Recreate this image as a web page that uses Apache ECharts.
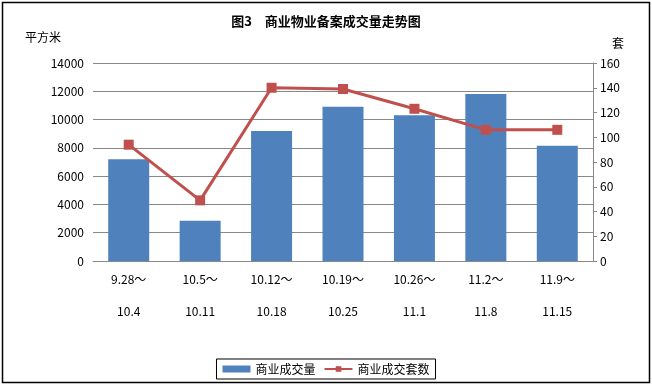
<!DOCTYPE html>
<html><head><meta charset="utf-8">
<script src="https://cdn.jsdelivr.net/npm/echarts@6/dist/echarts.min.js"></script>
<style>html,body{margin:0;padding:0;background:#fff}#c{width:652px;height:386px}</style>
</head><body><div id="c"></div>
<script>
const categories = ['9.28～\n10.4','10.5～\n10.11','10.12～\n10.18','10.19～\n10.25','10.26～\n11.1','11.2～\n11.8','11.9～\n11.15'];
const areaValues = [7200, 2850, 9200, 10900, 10300, 11800, 8150];
const unitValues = [94, 49, 140, 139, 123, 106, 106];
const leftTicks = {min: 0, max: 14000, interval: 2000};
const rightTicks = {min: 0, max: 160, interval: 20};

const font = 'SimSun, "Noto Sans CJK SC", sans-serif';
const chart = echarts.init(document.getElementById('c'));
chart.setOption({
  animation: false,
  backgroundColor: '#fff',
  textStyle: {fontFamily: font},
  title: {
    text: '图3　商业物业备案成交量走势图',
    left: 'center', top: 10,
    textStyle: {fontSize: 13, fontWeight: 'bold', color: '#000', fontFamily: font}
  },
  graphic: [
    {type: 'rect', shape: {x: 2.5, y: 2.5, width: 647, height: 380}, style: {fill: 'none', stroke: '#000', lineWidth: 1.5}, silent: true},
    {type: 'text', left: 25, top: 31, style: {text: '平方米', fontSize: 12, fill: '#000', fontFamily: font}},
    {type: 'text', left: 612, top: 37, style: {text: '套', fontSize: 12, fill: '#000', fontFamily: font}}
  ],
  legend: {
    bottom: 7, left: 'center',
    borderColor: '#000', borderWidth: 1, borderRadius: 0,
    padding: [4, 6, 4, 6],
    itemGap: 8, itemWidth: 28, itemHeight: 7,
    textStyle: {fontSize: 12, color: '#000', fontFamily: font},
    data: [{name: '商业成交量', icon: 'rect'}, {name: '商业成交套数'}]
  },
  grid: {left: 93, right: 59, top: 63, bottom: 125},
  xAxis: {
    type: 'category', data: categories,
    axisLine: {lineStyle: {color: '#888', width: 1}},
    axisTick: {show: false},
    axisLabel: {color: '#000', fontSize: 12, lineHeight: 32, margin: 2, interval: 0, fontFamily: font}
  },
  yAxis: [
    {
      type: 'value', min: leftTicks.min, max: leftTicks.max, interval: leftTicks.interval,
      axisLine: {show: false}, axisTick: {show: false},
      axisLabel: {color: '#000', fontSize: 12, margin: 9, fontFamily: font, formatter: v => String(v)},
      splitLine: {lineStyle: {color: '#888', width: 1}}
    },
    {
      type: 'value', min: rightTicks.min, max: rightTicks.max, interval: rightTicks.interval,
      position: 'right',
      axisLine: {show: true, lineStyle: {color: '#888', width: 1}},
      axisTick: {show: true, length: 4, lineStyle: {color: '#888'}},
      axisLabel: {color: '#000', fontSize: 12, margin: 7, fontFamily: font, formatter: v => String(v)},
      splitLine: {show: false}
    }
  ],
  series: [
    {
      name: '商业成交量', type: 'bar', data: areaValues, yAxisIndex: 0,
      barWidth: 41, itemStyle: {color: '#4F81BD'}
    },
    {
      name: '商业成交套数', type: 'line', data: unitValues, yAxisIndex: 1,
      symbol: 'rect', symbolSize: 10,
      lineStyle: {color: '#C0504D', width: 3},
      itemStyle: {color: '#C0504D'}
    }
  ]
});
</script></body></html>
